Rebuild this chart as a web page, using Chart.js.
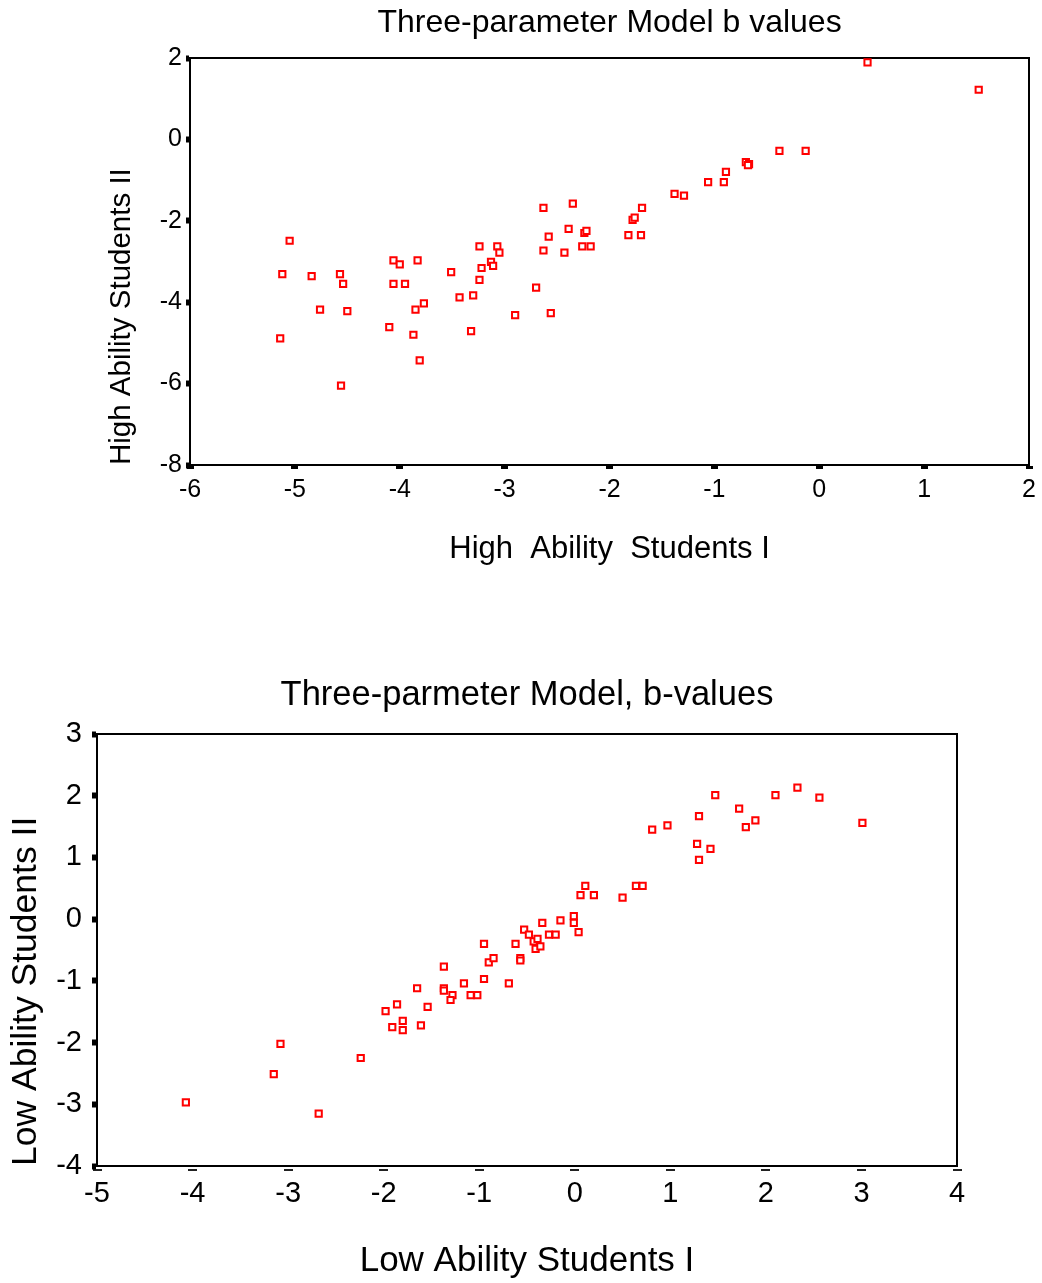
<!DOCTYPE html>
<html>
<head>
<meta charset="utf-8">
<script src="https://cdn.jsdelivr.net/npm/chart.js@4.4.1/dist/chart.umd.min.js"></script>
<style>
  body { margin: 0; background: #fff; }
  .box { position: absolute; left: 0; }
  #topBox { top: 0; }
  #lowBox { top: 620px; }
</style>
</head>
<body>
<div class="box" id="topBox"><canvas id="chartHigh" width="1042" height="600"></canvas></div>
<div class="box" id="lowBox"><canvas id="chartLow" width="1042" height="663"></canvas></div>
<script>
// High ability students, b values, run I vs run II
let highX = [-5.05,-5.12,-5.14,-4.84,-4.76,-4.57,-4.54,-4.50,-4.56,
             -4.06,-4.00,-3.83,-4.06,-3.95,-4.10,-3.85,-3.77,-3.87,-3.81,
             -3.51,-3.43,-3.30,-3.32,-3.24,-3.22,-3.24,-3.13,-3.11,-3.07,-3.05,
             -2.90,-2.70,-2.63,-2.63,-2.58,-2.56,-2.43,-2.39,-2.35,-2.24,-2.22,-2.26,-2.18,
             -1.82,-1.70,-1.78,-1.76,-1.69,-1.38,-1.29,-1.06,-0.91,-0.89,
             -0.70,-0.67,-0.68,-0.38,-0.13,0.46,1.52];
let highY = [-2.49,-3.31,-4.89,-3.36,-4.18,-3.31,-3.55,-4.22,-6.05,
             -2.97,-3.07,-2.97,-3.55,-3.55,-4.61,-4.18,-4.03,-4.80,-5.43,
             -3.26,-3.88,-3.83,-4.71,-2.63,-3.16,-3.45,-3.01,-3.11,-2.63,-2.78,
             -4.32,-3.64,-1.68,-2.73,-2.39,-4.27,-2.78,-2.20,-1.58,-2.30,-2.25,-2.63,-2.63,
             -2.35,-2.35,-1.98,-1.92,-1.68,-1.34,-1.38,-1.05,-1.05,-0.80,
             -0.56,-0.61,-0.63,-0.28,-0.28,1.89,1.22];

// Low ability students
let lowX = [-4.07,-3.15,-3.08,-2.68,-2.24,-1.98,-1.91,-1.86,-1.80,-1.80,
            -1.65,-1.61,-1.54,-1.37,-1.37,-1.37,-1.28,-1.30,-1.16,-1.09,
            -1.02,-0.95,-0.95,-0.90,-0.85,-0.69,-0.62,-0.57,-0.57,-0.53,
            -0.48,-0.43,-0.39,-0.41,-0.36,-0.34,-0.27,-0.20,-0.15,-0.01,
            -0.01,0.04,0.06,0.11,0.20,0.50,0.64,0.71,0.81,0.97,
            1.28,1.30,1.30,1.42,1.47,1.72,1.79,1.89,2.10,2.33,2.56,3.01];
let lowY = [-2.97,-2.51,-2.02,-3.15,-2.25,-1.49,-1.75,-1.38,-1.65,-1.80,
            -1.12,-1.72,-1.42,-0.77,-1.12,-1.16,-1.23,-1.31,-1.04,-1.23,
            -1.23,-0.40,-0.97,-0.70,-0.63,-1.04,-0.40,-0.63,-0.67,-0.17,
            -0.25,-0.36,-0.32,-0.48,-0.44,-0.06,-0.25,-0.25,-0.02,0.05,
            -0.06,-0.21,0.39,0.54,0.39,0.35,0.54,0.54,1.45,1.52,
            1.22,1.67,0.96,1.14,2.01,1.79,1.49,1.60,2.01,2.13,1.97,1.56];

Chart.defaults.font.family = "'Liberation Sans', Arial, sans-serif";
Chart.defaults.color = '#000';

function toPoints(xs, ys) {
    let pts = [];
    for (let i = 0; i < xs.length; i++) {
        pts.push({ x: xs[i], y: ys[i] });
    }
    return pts;
}

function makeScatter(id, xs, ys, s) {
    const ctx = document.getElementById(id).getContext('2d');
    const config = {
        type: 'scatter',
        data: {
            datasets: [{
                data: toPoints(xs, ys),
                pointStyle: 'rect',
                radius: 4.4,
                borderWidth: 2,
                borderColor: '#ff0000',
                backgroundColor: '#ffffff'
            }]
        },
        options: {
            responsive: false,
            animation: false,
            devicePixelRatio: 1,
            layout: { padding: 0 },
            plugins: { legend: { display: false }, tooltip: { enabled: false } },
            scales: {
                x: {
                    type: 'linear', position: 'bottom', min: s.xMin, max: s.xMax,
                    ticks: { stepSize: 1, font: { size: s.tickSize }, padding: s.xPad },
                    grid: Object.assign({ drawOnChartArea: false, tickColor: '#000' }, s.xTick),
                    border: { color: '#000', width: 2 },
                    title: { display: true, text: s.xTitle, font: { size: s.xTitleSize }, padding: { bottom: s.xTitlePad } },
                    afterFit: function (sc) { sc.height = s.bottomH; }
                },
                y: {
                    type: 'linear', position: 'left', min: s.yMin, max: s.yMax,
                    ticks: { stepSize: s.yStep, font: { size: s.tickSize }, padding: s.yPad },
                    grid: { drawOnChartArea: false, tickColor: '#000', tickLength: s.yTickLen, tickWidth: 6 },
                    border: { color: '#000', width: 2 },
                    title: { display: true, text: s.yTitle, align: 'start', font: { size: s.yTitleSize }, padding: { top: s.yTitlePad } },
                    afterFit: function (sc) { sc.width = s.leftW; }
                },
                x2: {
                    type: 'linear', position: 'top',
                    ticks: { display: false },
                    grid: { drawOnChartArea: false, drawTicks: false },
                    border: { color: '#000', width: 2 },
                    title: { display: true, text: s.title, font: { size: s.titleSize }, padding: { top: s.titlePad } },
                    afterFit: function (sc) { sc.height = s.topH; }
                },
                y2: {
                    type: 'linear', position: 'right',
                    ticks: { display: false },
                    grid: { drawOnChartArea: false, drawTicks: false },
                    border: { color: '#000', width: 2 },
                    afterFit: function (sc) { sc.width = s.rightW; }
                }
            }
        }
    };
    new Chart(ctx, config);
}

makeScatter('chartHigh', highX, highY, {
    title: 'Three-parameter Model b values',
    xTitle: 'High  Ability  Students I',
    yTitle: 'High Ability Students II',
    xMin: -6, xMax: 2, yMin: -8, yMax: 2, yStep: 2,
    tickSize: 25, titleSize: 32, xTitleSize: 31, yTitleSize: 29.5,
    xPad: 6, yPad: 4, yTickLen: 4,
    xTick: { tickLength: 4, tickWidth: 7 },
    xTitlePad: 32, yTitlePad: 104, titlePad: 4,
    leftW: 190, rightW: 11, topH: 58, bottomH: 135
});

makeScatter('chartLow', lowX, lowY, {
    title: 'Three-parmeter Model, b-values',
    xTitle: 'Low Ability Students I',
    yTitle: 'Low Ability Students II',
    xMin: -5, xMax: 4, yMin: -4, yMax: 3, yStep: 1,
    tickSize: 29, titleSize: 34.5, xTitleSize: 35, yTitleSize: 35.5,
    xPad: 6, yPad: 10, yTickLen: 5,
    xTick: { tickLength: 5, tickWidth: 9, tickColor: '#222', tickBorderDash: [0, 2, 2, 20] },
    xTitlePad: 1, yTitlePad: 5, titlePad: 55,
    leftW: 97, rightW: 85, topH: 114, bottomH: 117
});
</script>
</body>
</html>
